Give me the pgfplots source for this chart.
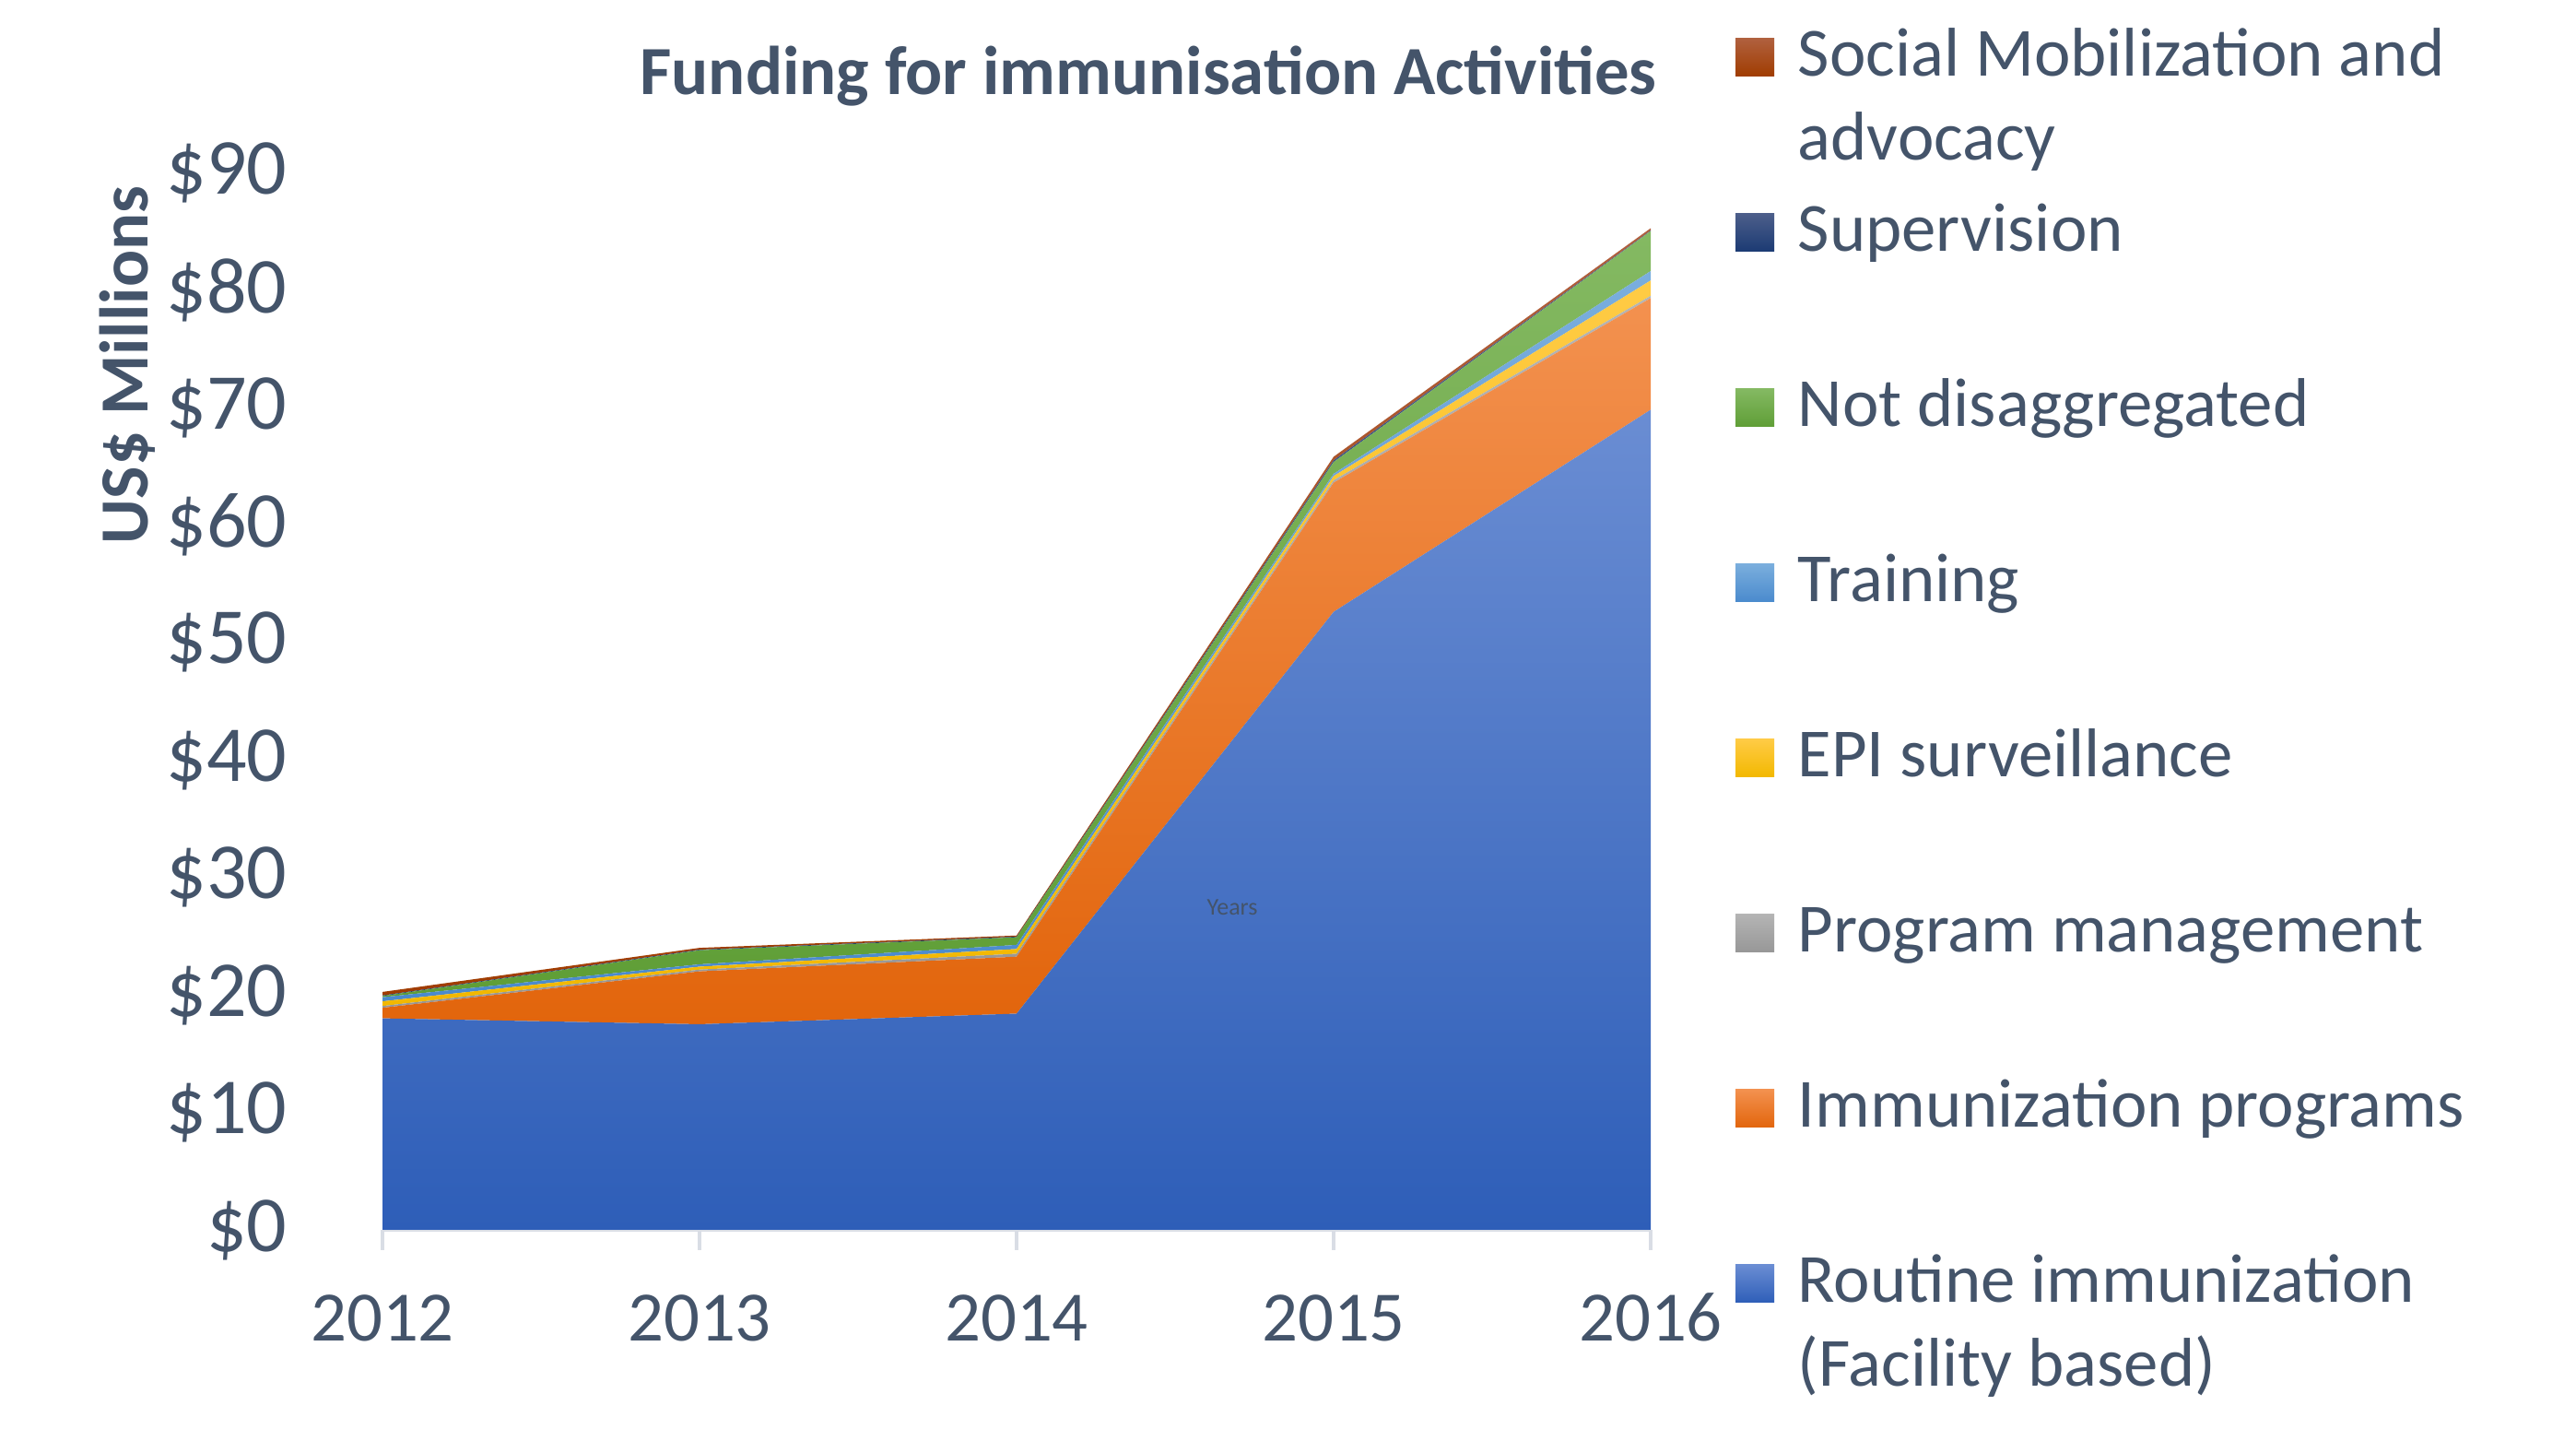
\documentclass[border=0pt]{standalone}
\usepackage{pgfplots}
\pgfplotsset{compat=1.18}
\usepackage{fontspec}
\setmainfont{Carlito}
\definecolor{txt}{HTML}{44546A}
\definecolor{axisgray}{HTML}{D9DDE5}
\definecolor{rtTop}{HTML}{6A8DD3}
\definecolor{rtBot}{HTML}{2E5EB8}
\definecolor{orTop}{HTML}{F3914F}
\definecolor{orBot}{HTML}{E2650C}
\definecolor{pmTop}{HTML}{B4B4B4}
\definecolor{pmBot}{HTML}{979797}
\definecolor{epTop}{HTML}{FFCB45}
\definecolor{epBot}{HTML}{F2B800}
\definecolor{trTop}{HTML}{7AAEDD}
\definecolor{trBot}{HTML}{4A8ACD}
\definecolor{ndTop}{HTML}{84B962}
\definecolor{ndBot}{HTML}{5F9E36}
\definecolor{suTop}{HTML}{4C5E8A}
\definecolor{suBot}{HTML}{1B3A73}
\definecolor{soTop}{HTML}{B0603E}
\definecolor{soBot}{HTML}{A03C00}
\begin{document}
\begin{tikzpicture}
\useasboundingbox (0,0) rectangle (698.75pt,387.5pt);
\begin{axis}[
  at={(103.75pt,54pt)}, anchor=south west,
  scale only axis, width=344pt, height=286.75pt,
  xmin=2012, xmax=2016, ymin=0, ymax=90,
  stack plots=y,
  axis x line*=bottom, axis y line*=left,
  y axis line style={draw=none},
  x axis line style={draw=axisgray, line width=0.8pt},
  xtick={2012,2013,2014,2015,2016},
  xticklabels={2012,2013,2014,2015,2016},
  ytick={0,10,20,30,40,50,60,70,80,90},
  yticklabels={\$0,\$10,\$20,\$30,\$40,\$50,\$60,\$70,\$80,\$90},
  tick align=outside,
  major tick length=5.5pt,
  xtick style={draw=axisgray, line width=0.8pt},
  ytick style={draw=none},
  ticklabel style={text=txt, inner sep=0pt},
  xticklabel style={font=\fontsize{19.2}{23}\selectfont, anchor=base, yshift=-24.75pt},
  yticklabel style={font=\fontsize{21.5}{26}\selectfont, anchor=east, xshift=-20.25pt},
  clip=false,
]
\addplot[draw=none, top color=rtTop, bottom color=rtBot] coordinates {(2012,18.0) (2013,17.5) (2014,18.4) (2015,52.6) (2016,69.8)} \closedcycle;
\addplot[draw=none, top color=orTop, bottom color=orBot] coordinates {(2012,0.9) (2013,4.5) (2014,4.85) (2015,11.0) (2016,9.5)} \closedcycle;
\addplot[draw=none, top color=pmTop, bottom color=pmBot] coordinates {(2012,0.15) (2013,0.15) (2014,0.25) (2015,0.2) (2016,0.2)} \closedcycle;
\addplot[draw=none, top color=epTop, bottom color=epBot] coordinates {(2012,0.4) (2013,0.25) (2014,0.4) (2015,0.35) (2016,1.3)} \closedcycle;
\addplot[draw=none, top color=trTop, bottom color=trBot] coordinates {(2012,0.35) (2013,0.2) (2014,0.35) (2015,0.2) (2016,0.8)} \closedcycle;
\addplot[draw=none, top color=ndTop, bottom color=ndBot] coordinates {(2012,0.1) (2013,1.2) (2014,0.65) (2015,1.0) (2016,3.4)} \closedcycle;
\addplot[draw=none, top color=suTop, bottom color=suBot] coordinates {(2012,0.05) (2013,0.05) (2014,0.05) (2015,0.15) (2016,0.05)} \closedcycle;
\addplot[draw=none, top color=soTop, bottom color=soBot] coordinates {(2012,0.3) (2013,0.15) (2014,0.1) (2015,0.3) (2016,0.2)} \closedcycle;
\end{axis}
% title and axis label
\node[anchor=base, inner sep=0pt, text=txt, font=\fontsize{18.7}{22}\selectfont\bfseries] at (311.5pt,361.75pt) {Funding for immunisation Activities};
\node[anchor=base, rotate=90, inner sep=0pt, text=txt, font=\fontsize{18.7}{22}\selectfont\bfseries] at (40pt,288.5pt) {US\$ Millions};
\node[inner sep=0pt, text=txt, font=\fontsize{6.5}{8}\selectfont] at (334.25pt,141.5pt) {Years};
% legend
\def\lgfont{\fontsize{18.7}{22.75}\selectfont}
\foreach \i/\ct/\cb/\lab in {0/soTop/soBot/{Social Mobilization and},1/suTop/suBot/{Supervision},2/ndTop/ndBot/{Not disaggregated},3/trTop/trBot/{Training},4/epTop/epBot/{EPI surveillance},5/pmTop/pmBot/{Program management},6/orTop/orBot/{Immunization programs},7/rtTop/rtBot/{Routine immunization}}{
  \pgfmathsetmacro{\yb}{366.75-47.5*\i}
  \shade[top color=\ct, bottom color=\cb] (470.75pt,\yb pt) rectangle (481.25pt,\yb pt+10.25pt);
  \node[anchor=base west, inner sep=0pt, text=txt, font=\lgfont] at (487.5pt,\yb pt) {\lab};
}
\node[anchor=base west, inner sep=0pt, text=txt, font=\lgfont] at (487.5pt,344pt) {advocacy};
\node[anchor=base west, inner sep=0pt, text=txt, font=\lgfont] at (487.5pt,11.5pt) {(Facility based)};
\end{tikzpicture}
\end{document}
